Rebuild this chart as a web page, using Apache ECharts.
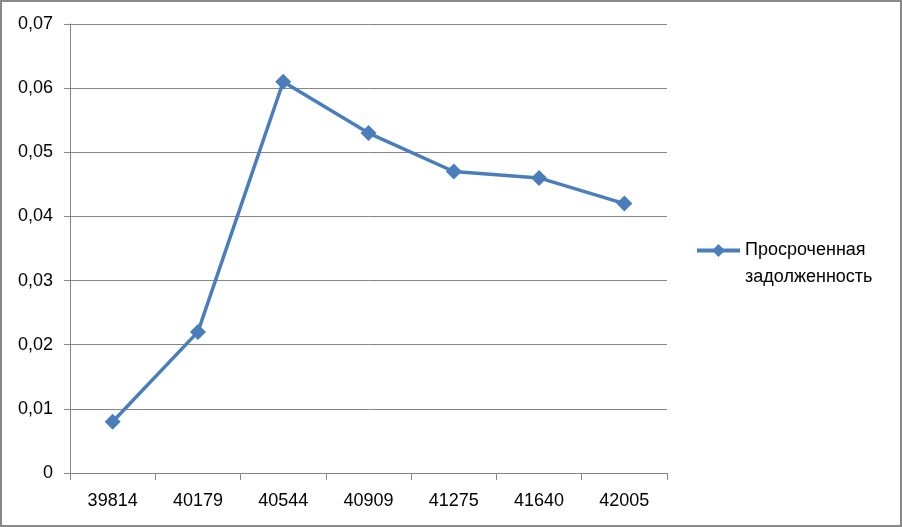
<!DOCTYPE html>
<html><head><meta charset="utf-8">
<script src="https://cdn.jsdelivr.net/npm/echarts@6/dist/echarts.min.js"></script>
<style>html,body{margin:0;padding:0;background:#fff}#c{width:902px;height:527px}</style>
</head><body><div id="c"></div>
<script>
const categories = ['39814','40179','40544','40909','41275','41640','42005'];
const seriesName = 'Просроченная задолженность';
const values = [0.008, 0.022, 0.061, 0.053, 0.047, 0.046, 0.042];
const yMin = 0, yMax = 0.07, yStep = 0.01;

const chart = echarts.init(document.getElementById('c'));
const font = 'Liberation Sans';
chart.setOption({
  animation: false,
  backgroundColor: '#fff',
  grid: {left: 70, right: 235, top: 24, bottom: 54},
  graphic: [{type: 'rect', shape: {x: 1, y: 1, width: 900, height: 525}, style: {fill: 'none', stroke: '#898989', lineWidth: 2}}],
  legend: {
    left: 690, top: 205, orient: 'vertical',
    itemWidth: 43, itemHeight: 16, itemGap: 0,
    formatter: () => ' \nПросроченная\nзадолженность',
    textStyle: {fontFamily: font, fontSize: 18, color: '#000', lineHeight: 27},
    lineStyle: {width: 4},
    data: [seriesName]
  },
  xAxis: {
    type: 'category', data: categories, boundaryGap: true,
    axisLine: {lineStyle: {color: '#868686', width: 1}},
    axisTick: {show: true, length: 7, lineStyle: {color: '#868686'}},
    axisLabel: {fontFamily: font, fontSize: 18, color: '#000', margin: 19}
  },
  yAxis: {
    type: 'value', min: yMin, max: yMax, interval: yStep,
    axisLine: {show: true, lineStyle: {color: '#868686', width: 1}},
    axisTick: {show: true, length: 6, lineStyle: {color: '#868686'}},
    splitLine: {lineStyle: {color: '#868686', width: 1}},
    axisLabel: {fontFamily: font, fontSize: 18, color: '#000', margin: 17,
      formatter: v => v === 0 ? '0' : v.toFixed(2).replace('.', ',')}
  },
  series: [{
    name: seriesName, type: 'line', data: values,
    symbol: 'diamond', symbolSize: 16,
    lineStyle: {color: '#4A7EBB', width: 3.5},
    itemStyle: {color: '#4A7EBB'}
  }]
});
</script></body></html>
